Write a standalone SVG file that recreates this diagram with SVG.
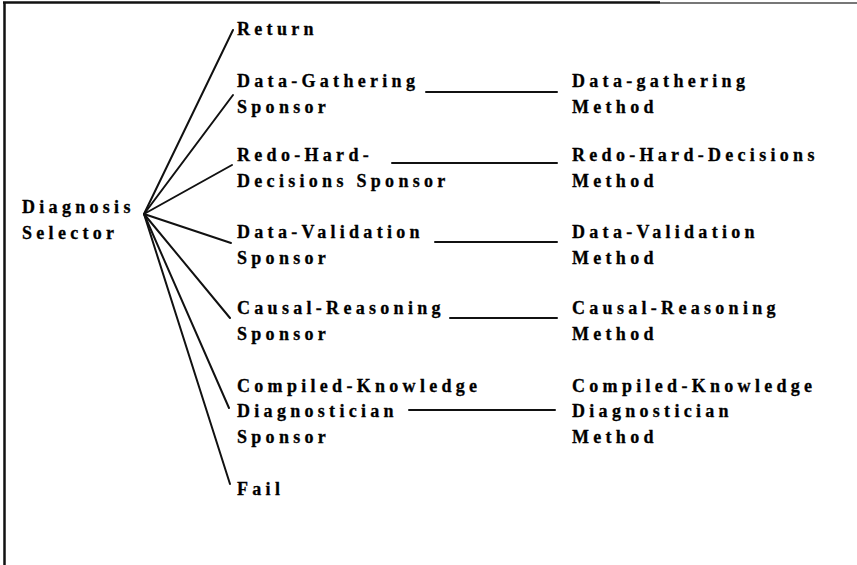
<svg xmlns="http://www.w3.org/2000/svg" width="857" height="565" viewBox="0 0 857 565">
  <style>
    .lbl { font-family: "Liberation Serif", "Times New Roman", serif; font-weight: bold; font-size: 18px; letter-spacing: 4.3px; fill: #000; stroke: #000; stroke-width: 0.3; }
    .edge { stroke: #111; stroke-width: 2; fill: none; stroke-linecap: round; }
    .frame { stroke: #111; stroke-width: 2.5; fill: none; }
  </style>
  <rect width="857" height="565" fill="#fff"/>

  <!-- page frame: top and left rules only -->
  <g id="frame">
    <line class="frame" x1="3" y1="2.5" x2="660" y2="2.5"/>
    <line x1="660" y1="3" x2="857" y2="3" stroke="#777" stroke-width="2"/>
    <line class="frame" x1="4.5" y1="2" x2="4.5" y2="565"/>
  </g>

  <g id="connectors">
    <!-- fan from the selector -->
    <line class="edge" x1="144" y1="214" x2="233" y2="30"/>
    <line class="edge" x1="144" y1="214" x2="233" y2="95"/>
    <line class="edge" x1="144" y1="214" x2="232" y2="165"/>
    <line class="edge" x1="144" y1="214" x2="231" y2="243"/>
    <line class="edge" x1="144" y1="214" x2="230" y2="318"/>
    <line class="edge" x1="144" y1="214" x2="229" y2="408"/>
    <line class="edge" x1="144" y1="214" x2="230" y2="484"/>
    <!-- sponsor to method links -->
    <line class="edge" x1="426" y1="92" x2="557" y2="92"/>
    <line class="edge" x1="392" y1="163" x2="557" y2="163"/>
    <line class="edge" x1="435" y1="242" x2="557" y2="242"/>
    <line class="edge" x1="450" y1="318" x2="557" y2="318"/>
    <line class="edge" x1="409" y1="410" x2="555" y2="410"/>
  </g>

  <g id="diagnosis-selector">
    <text class="lbl" x="22" y="213">Diagnosis</text>
    <text class="lbl" x="22" y="239">Selector</text>
  </g>

  <g id="return">
    <text class="lbl" x="237" y="35">Return</text>
  </g>

  <g id="data-gathering-sponsor">
    <text class="lbl" x="237" y="87">Data-Gathering</text>
    <text class="lbl" x="237" y="113">Sponsor</text>
  </g>
  <g id="data-gathering-method">
    <text class="lbl" x="572" y="87">Data-gathering</text>
    <text class="lbl" x="572" y="113">Method</text>
  </g>

  <g id="redo-hard-decisions-sponsor">
    <text class="lbl" x="237" y="161">Redo-Hard-</text>
    <text class="lbl" x="237" y="187">Decisions Sponsor</text>
  </g>
  <g id="redo-hard-decisions-method">
    <text class="lbl" x="572" y="161">Redo-Hard-Decisions</text>
    <text class="lbl" x="572" y="187">Method</text>
  </g>

  <g id="data-validation-sponsor">
    <text class="lbl" x="237" y="238">Data-Validation</text>
    <text class="lbl" x="237" y="264">Sponsor</text>
  </g>
  <g id="data-validation-method">
    <text class="lbl" x="572" y="238">Data-Validation</text>
    <text class="lbl" x="572" y="264">Method</text>
  </g>

  <g id="causal-reasoning-sponsor">
    <text class="lbl" x="237" y="314">Causal-Reasoning</text>
    <text class="lbl" x="237" y="340">Sponsor</text>
  </g>
  <g id="causal-reasoning-method">
    <text class="lbl" x="572" y="314">Causal-Reasoning</text>
    <text class="lbl" x="572" y="340">Method</text>
  </g>

  <g id="compiled-knowledge-sponsor">
    <text class="lbl" x="237" y="392">Compiled-Knowledge</text>
    <text class="lbl" x="237" y="417">Diagnostician</text>
    <text class="lbl" x="237" y="443">Sponsor</text>
  </g>
  <g id="compiled-knowledge-method">
    <text class="lbl" x="572" y="392">Compiled-Knowledge</text>
    <text class="lbl" x="572" y="417">Diagnostician</text>
    <text class="lbl" x="572" y="443">Method</text>
  </g>

  <g id="fail">
    <text class="lbl" x="237" y="495">Fail</text>
  </g>
</svg>
